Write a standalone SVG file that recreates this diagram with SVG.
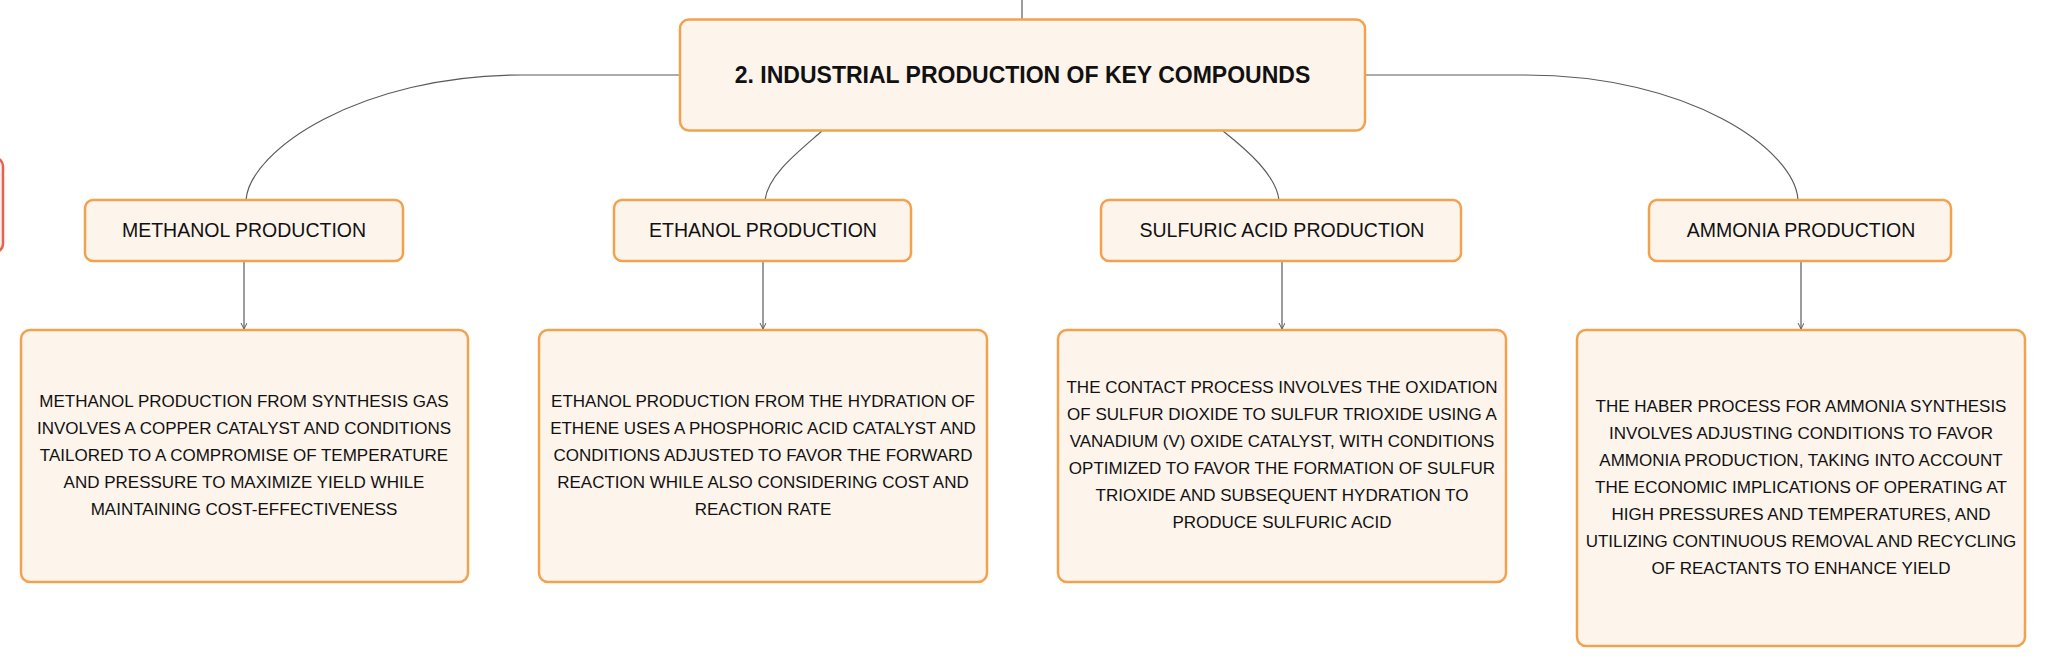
<svg xmlns="http://www.w3.org/2000/svg" width="2046" height="666" viewBox="0 0 2046 666">
<style>
.box{fill:#fdf4ec;stroke:#f2a24e;stroke-width:2.5}
.red{fill:#fdf1ef;stroke:#e9604c;stroke-width:2.5}
.con{fill:none;stroke:#5a5a5a;stroke-width:1.2}
.t{font-family:"Liberation Sans",Arial,sans-serif;fill:#111;text-anchor:middle}
.title{font-size:23px;font-weight:bold}
.lbl{font-size:19.5px}
.det{font-size:17px}
</style>
<defs>
<marker id="arr" markerWidth="8" markerHeight="8" refX="6" refY="3" orient="auto" markerUnits="userSpaceOnUse">
<path d="M0,0 L6,3 L0,6" fill="none" stroke="#5a5a5a" stroke-width="1"/>
</marker>
</defs>
<rect width="2046" height="666" fill="#ffffff"/>
<g id="connectors">
<path class="con" d="M1022,0 V19"/>
<path class="con" d="M680,75 H522 C360,75 250,150 246,200"/>
<path class="con" d="M822,131 C798,152 768,175 765,200"/>
<path class="con" d="M1223,131 C1247,150 1276,175 1279,200"/>
<path class="con" d="M1365,75 H1525 C1690,75 1795,150 1798,200"/>
<path class="con" d="M244,261 V329" marker-end="url(#arr)"/>
<path class="con" d="M763,261 V329" marker-end="url(#arr)"/>
<path class="con" d="M1282,261 V329" marker-end="url(#arr)"/>
<path class="con" d="M1801,261 V329" marker-end="url(#arr)"/>
</g>
<g id="offscreen-node">
<rect class="red" x="-100" y="158" width="103" height="94" rx="8"/>
</g>
<g id="main">
<rect class="box" x="680" y="19.5" width="685" height="111" rx="9"/>
<text class="t title" x="1022.5" y="83">2. INDUSTRIAL PRODUCTION OF KEY COMPOUNDS</text>
</g>
<g id="methanol">
<rect class="box" x="85" y="200" width="318" height="61" rx="8"/>
<text class="t lbl" x="244" y="237">METHANOL PRODUCTION</text>
</g>
<g id="ethanol">
<rect class="box" x="614" y="200" width="297" height="61" rx="8"/>
<text class="t lbl" x="763" y="237">ETHANOL PRODUCTION</text>
</g>
<g id="sulfuric">
<rect class="box" x="1101" y="200" width="360" height="61" rx="8"/>
<text class="t lbl" x="1282" y="237">SULFURIC ACID PRODUCTION</text>
</g>
<g id="ammonia">
<rect class="box" x="1649" y="200" width="302" height="61" rx="8"/>
<text class="t lbl" x="1801" y="237">AMMONIA PRODUCTION</text>
</g>
<g id="methanol-detail">
<rect class="box" x="21" y="330" width="447" height="252" rx="9"/>
<text class="t det" x="244" y="407">METHANOL PRODUCTION FROM SYNTHESIS GAS</text>
<text class="t det" x="244" y="434">INVOLVES A COPPER CATALYST AND CONDITIONS</text>
<text class="t det" x="244" y="461">TAILORED TO A COMPROMISE OF TEMPERATURE</text>
<text class="t det" x="244" y="488">AND PRESSURE TO MAXIMIZE YIELD WHILE</text>
<text class="t det" x="244" y="515">MAINTAINING COST-EFFECTIVENESS</text>
</g>
<g id="ethanol-detail">
<rect class="box" x="539" y="330" width="448" height="252" rx="9"/>
<text class="t det" x="763" y="407">ETHANOL PRODUCTION FROM THE HYDRATION OF</text>
<text class="t det" x="763" y="434">ETHENE USES A PHOSPHORIC ACID CATALYST AND</text>
<text class="t det" x="763" y="461">CONDITIONS ADJUSTED TO FAVOR THE FORWARD</text>
<text class="t det" x="763" y="488">REACTION WHILE ALSO CONSIDERING COST AND</text>
<text class="t det" x="763" y="515">REACTION RATE</text>
</g>
<g id="sulfuric-detail">
<rect class="box" x="1058" y="330" width="448" height="252" rx="9"/>
<text class="t det" x="1282" y="393">THE CONTACT PROCESS INVOLVES THE OXIDATION</text>
<text class="t det" x="1282" y="420">OF SULFUR DIOXIDE TO SULFUR TRIOXIDE USING A</text>
<text class="t det" x="1282" y="447">VANADIUM (V) OXIDE CATALYST, WITH CONDITIONS</text>
<text class="t det" x="1282" y="474">OPTIMIZED TO FAVOR THE FORMATION OF SULFUR</text>
<text class="t det" x="1282" y="501">TRIOXIDE AND SUBSEQUENT HYDRATION TO</text>
<text class="t det" x="1282" y="528">PRODUCE SULFURIC ACID</text>
</g>
<g id="ammonia-detail">
<rect class="box" x="1577" y="330" width="448" height="316" rx="9"/>
<text class="t det" x="1801" y="412">THE HABER PROCESS FOR AMMONIA SYNTHESIS</text>
<text class="t det" x="1801" y="439">INVOLVES ADJUSTING CONDITIONS TO FAVOR</text>
<text class="t det" x="1801" y="466">AMMONIA PRODUCTION, TAKING INTO ACCOUNT</text>
<text class="t det" x="1801" y="493">THE ECONOMIC IMPLICATIONS OF OPERATING AT</text>
<text class="t det" x="1801" y="520">HIGH PRESSURES AND TEMPERATURES, AND</text>
<text class="t det" x="1801" y="547">UTILIZING CONTINUOUS REMOVAL AND RECYCLING</text>
<text class="t det" x="1801" y="574">OF REACTANTS TO ENHANCE YIELD</text>
</g>
</svg>
